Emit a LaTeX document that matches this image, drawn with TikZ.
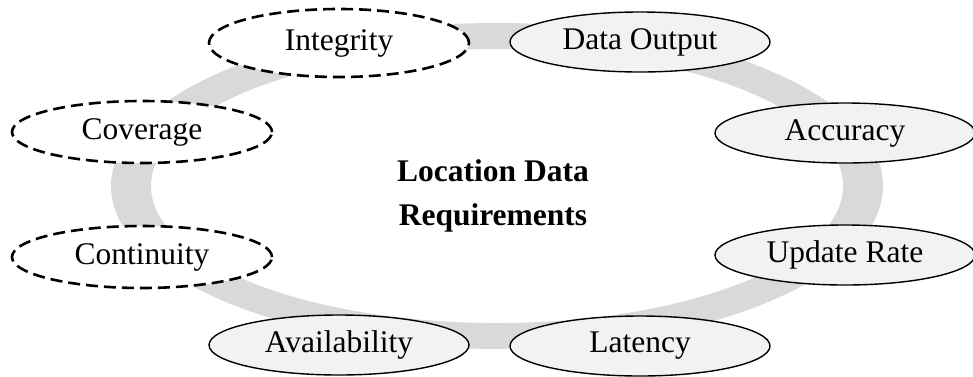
\documentclass[tikz,border=0pt]{standalone}
\usepackage{fontspec}
\setmainfont{Liberation Serif}
\usetikzlibrary{shapes.geometric}
\definecolor{ringgray}{RGB}{217,217,217}
\definecolor{nodefill}{RGB}{242,242,242}
\tikzset{
  req/.style={ellipse, draw=black, line width=1.4pt, fill=nodefill, minimum width=260pt, minimum height=60pt, inner sep=0pt, font=\fontsize{31.5}{35}\selectfont},
  reqdash/.style={ellipse, draw=black, line width=2.6pt, dash pattern=on 12pt off 6pt, fill=white, minimum width=260pt, minimum height=62pt, inner sep=0pt, font=\fontsize{31.5}{35}\selectfont},
  title/.style={align=center, font=\fontsize{31.5}{44}\selectfont\bfseries}
}
\begin{document}
\begin{tikzpicture}[x=1pt,y=-1pt]
\useasboundingbox (0,0) rectangle (973,376);
\fill[ringgray, even odd rule] (497,186) ellipse [x radius=386, y radius=163] (497,186) ellipse [x radius=346, y radius=137];
\node[reqdash, minimum height=68pt] (integrity) at (339,43) {Integrity};
\node[req] (dataoutput) at (640,42) {Data Output};
\node[reqdash] (coverage) at (142,132) {Coverage};
\node[req] (accuracy) at (845,133) {Accuracy};
\node[reqdash] (continuity) at (142,257) {Continuity};
\node[req] (updaterate) at (845,255) {Update Rate};
\node[req] (availability) at (339,345) {Availability};
\node[req] (latency) at (640,346) {Latency};
\node[title] (center) at (493,196) {Location Data\\Requirements};
\end{tikzpicture}
\end{document}
